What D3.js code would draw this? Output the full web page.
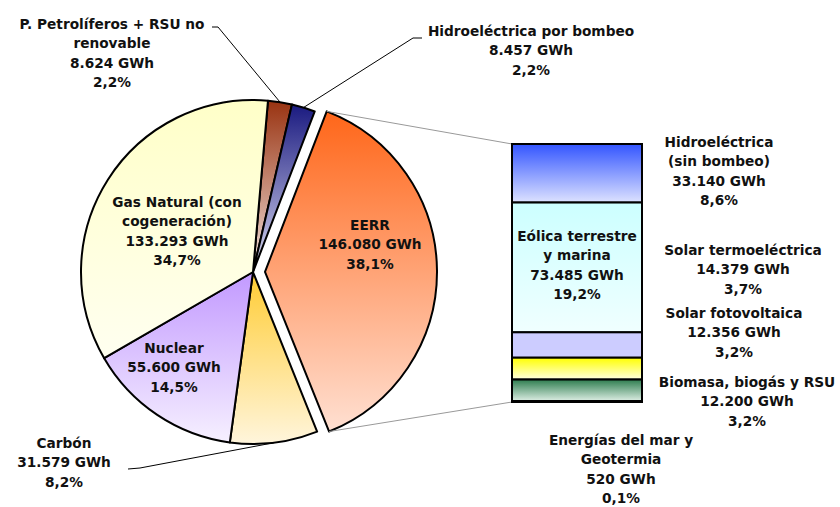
<!DOCTYPE html>
<html>
<head>
<meta charset="utf-8">
<script src="https://cdn.jsdelivr.net/npm/d3@7"></script>
<style>
  html, body { margin: 0; padding: 0; background: #fff; }
  svg text { font-family: "DejaVu Sans", sans-serif; font-weight: bold; font-size: 13.7px; fill: #111; }
</style>
</head>
<body>
<svg id="chart" width="840" height="507"></svg>
<script>
// Data
const pieNames = ["P. Petrolíferos + RSU no\nrenovable", "Hidroeléctrica por bombeo", "EERR",
                  "Carbón", "Nuclear", "Gas Natural (con\ncogeneración)"];
const pieValues = [8624, 8457, 146080, 31579, 55600, 133293];

const barNames = ["Hidroeléctrica\n(sin bombeo)", "Eólica terrestre\ny marina", "Solar termoeléctrica",
                  "Solar fotovoltaica", "Biomasa, biogás y RSU", "Energías del mar y\nGeotermia"];
const barValues = [33140, 73485, 14379, 12356, 12200, 520];

// Colours (top -> bottom of gradient)
const pieColors = [["#993311", "#f2e4de"], ["#1a1a80", "#dcdcf2"], ["#ff6619", "#ffe0d2"],
                   ["#ffcc33", "#fff5dc"], ["#c299ff", "#f6f0ff"], ["#ffffc8", "#fffff0"]];
const barColors = [["#3355ff", "#dde2ff"], ["#ccffff", "#f0ffff"], ["#ccccff", "#ccccff"],
                   ["#ffff00", "#ffffe0"], ["#2e7d4f", "#ddeee4"], ["#999999", "#dddddd"]];

// Layout
const cx = 253, cy = 272, radius = 172, explode = 12;
const explodeIndex = 2;
const bar = { x: 512, width: 130, top: 144, bottom: 402 };
const lineH = 19.5;
const pieLabelPos = [[112, 24], [531, 31], [370, 225], [64, 443], [174, 348], [177, 202]];
const pieLeaders = { 0: [[212, 27], [218, 27]], 1: [[422, 38], [413, 38]], 3: [[128, 469], [140, 468]] };
const barLabelPos = [[719, 142], [577, 236], [743, 250], [734, 313], [747, 382], [621, 440]];

const loc = d3.formatLocale({ decimal: ",", thousands: ".", grouping: [3], currency: ["", ""] });
const fmtGWh = loc.format(",d");
const fmtPct = loc.format(".1f");
const total = d3.sum(pieValues);

const $svg = d3.select("#chart");
const defs = $svg.append("defs");

function addGradient(id, [c1, c2]) {
    const g = defs.append("linearGradient")
        .attr("id", id).attr("x1", 0).attr("y1", 0).attr("x2", 0).attr("y2", 1);
    g.append("stop").attr("offset", "0%").attr("stop-color", c1);
    g.append("stop").attr("offset", "100%").attr("stop-color", c2);
}
pieColors.forEach((c, i) => addGradient("pg" + i, c));
barColors.forEach((c, i) => addGradient("bg" + i, c));

// Pie
const start = 5 * Math.PI / 180;
const pie = d3.pie().sort(null).value(d => d).startAngle(start).endAngle(start + 2 * Math.PI);
const arcs = pie(pieValues);
const arc = d3.arc().innerRadius(0).outerRadius(radius);

function offsetOf(i) {
    if (i !== explodeIndex) return [0, 0];
    const a = (arcs[i].startAngle + arcs[i].endAngle) / 2;
    return [explode * Math.sin(a), -explode * Math.cos(a)];
}

const $pie = $svg.append("g").attr("transform", `translate(${cx},${cy})`);
$pie.selectAll("path")
  .data(arcs)
  .join("path")
    .attr("transform", (d, i) => `translate(${offsetOf(i)})`)
    .attr("d", arc)
    .attr("fill", (d, i) => `url(#pg${i})`)
    .attr("stroke", "#000")
    .attr("stroke-width", 2)
    .attr("stroke-linejoin", "round");

function arcPoint(angle, off = [0, 0]) {
    return [cx + off[0] + radius * Math.sin(angle), cy + off[1] - radius * Math.cos(angle)];
}

// Connectors from exploded slice to bar
const e = arcs[explodeIndex];
const eo = offsetOf(explodeIndex);
const y = d3.scaleLinear().domain([0, d3.sum(barValues)]).range([bar.top, bar.bottom]);
$svg.append("line")
    .attr("x1", arcPoint(e.startAngle, eo)[0]).attr("y1", arcPoint(e.startAngle, eo)[1])
    .attr("x2", bar.x).attr("y2", y(0))
    .attr("stroke", "#999").attr("stroke-width", 1);
$svg.append("line")
    .attr("x1", arcPoint(e.endAngle, eo)[0]).attr("y1", arcPoint(e.endAngle, eo)[1])
    .attr("x2", bar.x).attr("y2", y(d3.sum(barValues)))
    .attr("stroke", "#999").attr("stroke-width", 1);

// Stacked bar
const cum = d3.cumsum(barValues);
const segs = barValues.map((v, i) => ({ v, y0: cum[i] - v, y1: cum[i] }));
$svg.append("g").selectAll("rect")
  .data(segs)
  .join("rect")
    .attr("x", bar.x)
    .attr("width", bar.width)
    .attr("y", d => y(d.y0))
    .attr("height", d => y(d.y1) - y(d.y0))
    .attr("fill", (d, i) => `url(#bg${i})`)
    .attr("stroke", "#000")
    .attr("stroke-width", 2);

// Leader lines
Object.entries(pieLeaders).forEach(([i, pts]) => {
    const a = arcs[+i];
    const end = arcPoint((a.startAngle + a.endAngle) / 2);
    $svg.append("polyline")
        .attr("points", [...pts, end].map(p => p.join(",")).join(" "))
        .attr("fill", "none").attr("stroke", "#000").attr("stroke-width", 1);
});

// Labels
function drawLabel(x, y0, lines) {
    const t = $svg.append("text").attr("text-anchor", "middle");
    lines.forEach((l, k) => {
        t.append("tspan").attr("x", x).attr("y", y0 + k * lineH).attr("dy", "0.36em").text(l);
    });
}
pieValues.forEach((v, i) => {
    const lines = [...pieNames[i].split("\n"), fmtGWh(v) + " GWh", fmtPct(v / total * 100) + "%"];
    drawLabel(pieLabelPos[i][0], pieLabelPos[i][1], lines);
});
barValues.forEach((v, i) => {
    const lines = [...barNames[i].split("\n"), fmtGWh(v) + " GWh", fmtPct(v / total * 100) + "%"];
    drawLabel(barLabelPos[i][0], barLabelPos[i][1], lines);
});
</script>
</body>
</html>
